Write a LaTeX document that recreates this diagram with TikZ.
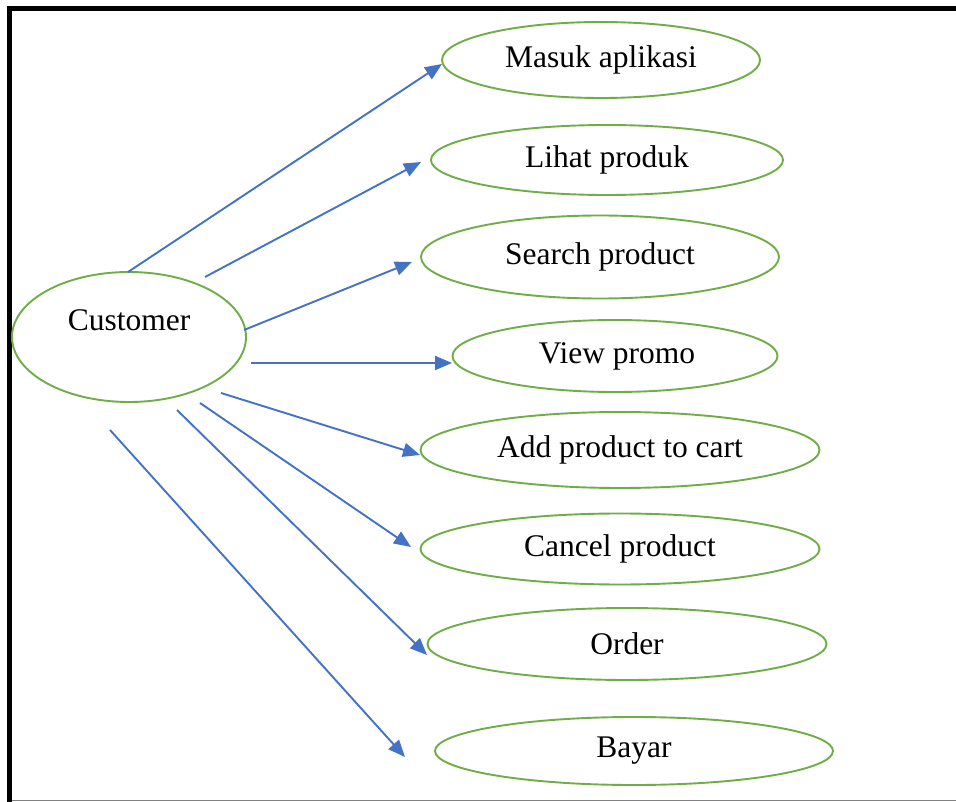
\documentclass[tikz,border=0pt]{standalone}
\usepackage{fontspec}
\setmainfont{Liberation Serif}
\usetikzlibrary{shapes.geometric,arrows.meta}
\definecolor{ucgreen}{HTML}{70AD47}
\definecolor{ucblue}{HTML}{4472C4}
\newcommand\uctext[1]{\raisebox{-7pt}{#1}}
\begin{document}
\begin{tikzpicture}[x=1pt,y=-1pt,
  uc/.style={draw=ucgreen,line width=1.9pt,ellipse,inner sep=0pt,
    font=\fontsize{31.5}{36}\selectfont},
  assoc/.style={draw=ucblue,line width=1.9pt,-{Triangle[length=17pt,width=14pt]}}]
\useasboundingbox (0,0) rectangle (956,802);
\fill[white] (0,0) rectangle (956,802);
% frame
\draw[line width=5pt] (9.5,802) -- (9.5,8.5) -- (956,8.5);
\draw[gray,line width=1.2pt] (12,800.5) -- (956,800.5);
% actor ellipse
\node[uc,minimum width=234pt,minimum height=130pt] (cust) at (129,337) {\raisebox{33pt}{Customer}};
% use cases
\node[uc,minimum width=318pt,minimum height=76pt] (u1) at (601,60) {\uctext{Masuk aplikasi}};
\node[uc,minimum width=352pt,minimum height=70pt] (u2) at (607,160) {\uctext{Lihat produk}};
\node[uc,minimum width=358pt,minimum height=83pt] (u3) at (600,257) {\uctext{Search product}};
\node[uc,minimum width=325pt,minimum height=72pt] (u4) at (615,356) {\uctext{\hspace*{4pt}View promo}};
\node[uc,minimum width=399pt,minimum height=76pt] (u5) at (620,450) {\uctext{Add product to cart}};
\node[uc,minimum width=399pt,minimum height=71pt] (u6) at (620,549) {\uctext{Cancel product}};
\node[uc,minimum width=399pt,minimum height=72pt] (u7) at (627,644) {\uctext{Order}};
\node[uc,minimum width=398pt,minimum height=68pt] (u8) at (634,751) {\uctext{Bayar}};
% connector ends
\coordinate (s1) at (128,272); \coordinate (e1) at (442,64);
\coordinate (s2) at (205,277); \coordinate (e2) at (421,162);
\coordinate (s3) at (244,330); \coordinate (e3) at (412,262);
\coordinate (s4) at (251,363); \coordinate (e4) at (452,363);
\coordinate (s5) at (221,393); \coordinate (e5) at (420,455);
\coordinate (s6) at (200,403); \coordinate (e6) at (411,547);
\coordinate (s7) at (177,410); \coordinate (e7) at (427,655);
\coordinate (s8) at (110,430); \coordinate (e8) at (405,757);
\foreach \i in {1,...,8} {\draw[assoc] (s\i) -- (e\i);}
\end{tikzpicture}
\end{document}
